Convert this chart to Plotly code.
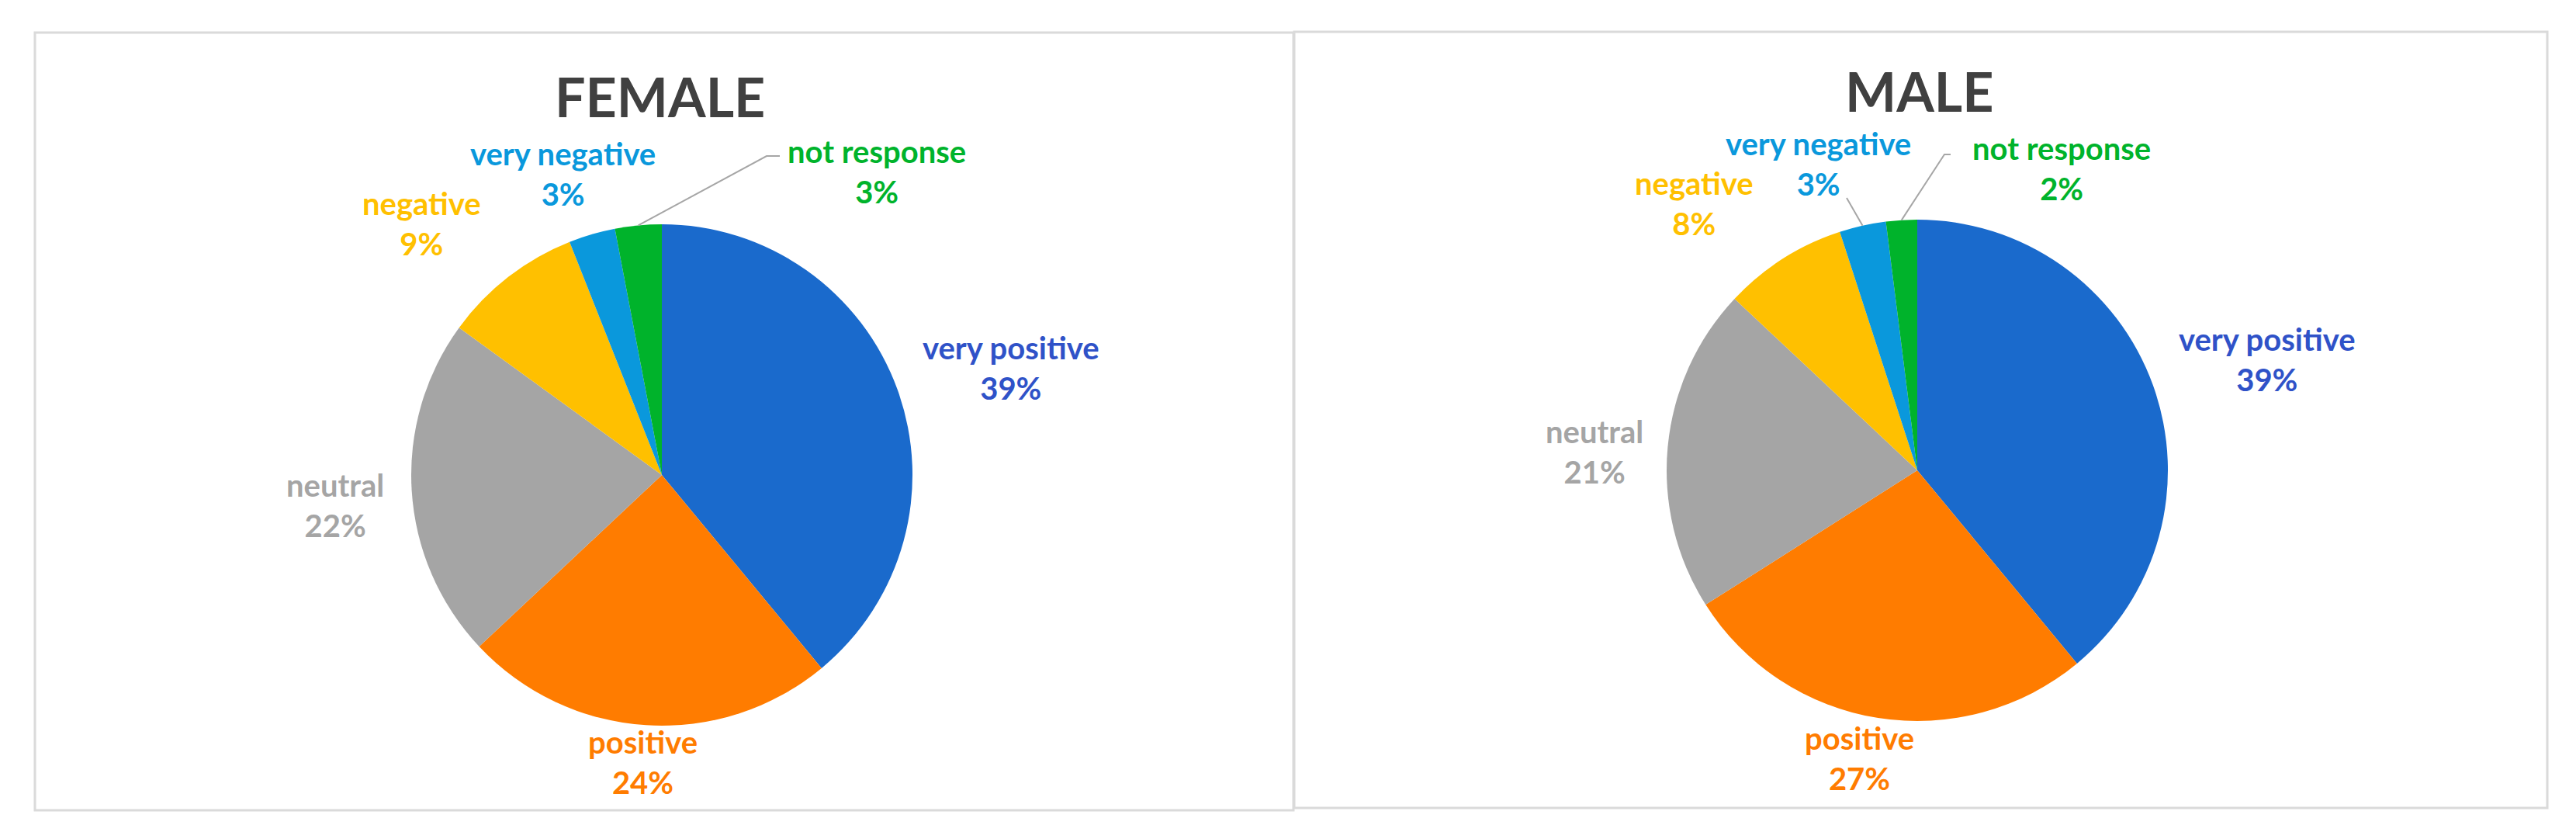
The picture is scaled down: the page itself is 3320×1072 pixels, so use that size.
import math
import plotly.graph_objects as go

# data
categories = ["very positive", "positive", "neutral", "negative", "very negative", "not response"]
female_pct = [39, 24, 22, 9, 3, 3]
male_pct = [39, 27, 21, 8, 3, 2]
titles = ["FEMALE", "MALE"]

slice_colors = ["#1A6ACC", "#FF7C00", "#A5A5A5", "#FFC000", "#0A98DC", "#00B32B"]
label_colors = ["#2F52C8", "#FF7C00", "#A5A5A5", "#FFC000", "#0A98DC", "#00B32B"]

W, H = 3320, 1072
FONT = "Lato"


def px(x):
    return x / W


def py(y):
    return 1 - y / H


# layout of each panel (pixel positions)
panels = [
    dict(values=female_pct, title=titles[0], cx=845, cy=604, r=323,
         title_pos=(843, 116), box=(37, 34, 1659, 1036),
         labels=[(1295, 466), (820, 974), (424, 643), (535, 280), (717, 216), (1122, 213)],
         leaders={5: [(980, 193), (997, 193)]}),
    dict(values=male_pct, title=titles[1], cx=2463, cy=598, r=323,
         title_pos=(2465, 109), box=(1660, 33, 3275, 1033),
         labels=[(2914, 455), (2388, 969), (2047, 574), (2175, 254), (2335, 203), (2649, 209)],
         leaders={4: [(2372, 247)], 5: [(2498, 191), (2506, 191)]}),
]

fig = go.Figure()
annotations = []
shapes = []

for p in panels:
    cx, cy, r = p["cx"], p["cy"], p["r"]
    fig.add_trace(go.Pie(
        labels=categories,
        values=p["values"],
        sort=False,
        direction="clockwise",
        rotation=0,
        marker=dict(colors=slice_colors, line=dict(width=0)),
        textinfo="none",
        hoverinfo="label+percent",
        showlegend=False,
        domain=dict(x=[px(cx - r), px(cx + r)], y=[py(cy + r), py(cy - r)]),
    ))

    # panel border
    x0, y0, x1, y1 = p["box"]
    shapes.append(dict(type="rect", xref="paper", yref="paper",
                       x0=px(x0), x1=px(x1), y0=py(y1), y1=py(y0),
                       line=dict(color="#DADADA", width=3), layer="below"))

    annotations.append(dict(text="<b>" + p["title"] + "</b>", x=px(p["title_pos"][0]), y=py(p["title_pos"][1]),
                            xref="paper", yref="paper", showarrow=False, xanchor="center", yanchor="middle",
                            font=dict(family=FONT, size=70, color="#404040")))

    total = sum(p["values"])
    start = 0.0
    for i, (cat, v) in enumerate(zip(categories, p["values"])):
        lx, ly = p["labels"][i]
        annotations.append(dict(text="<b>%s<br>%d%%</b>" % (cat, v), x=px(lx), y=py(ly),
                                xref="paper", yref="paper", showarrow=False,
                                xanchor="center", yanchor="middle",
                                font=dict(family=FONT, size=40, color=label_colors[i])))
        mid = (start + v / 2) / total * 2 * math.pi
        start += v
        if i in p["leaders"]:
            ex = cx + r * math.sin(mid)
            ey = cy - r * math.cos(mid)
            pts = [(ex, ey)] + p["leaders"][i]
            path = "M %f,%f" % (px(pts[0][0]), py(pts[0][1]))
            for qx, qy in pts[1:]:
                path += " L %f,%f" % (px(qx), py(qy))
            shapes.append(dict(type="path", xref="paper", yref="paper", path=path,
                               line=dict(color="#A6A6A6", width=2)))

fig.update_layout(
    width=W, height=H,
    margin=dict(l=0, r=0, t=0, b=0),
    paper_bgcolor="white",
    plot_bgcolor="white",
    annotations=annotations,
    shapes=shapes,
    font=dict(family=FONT),
)

fig.write_html("out.html")
